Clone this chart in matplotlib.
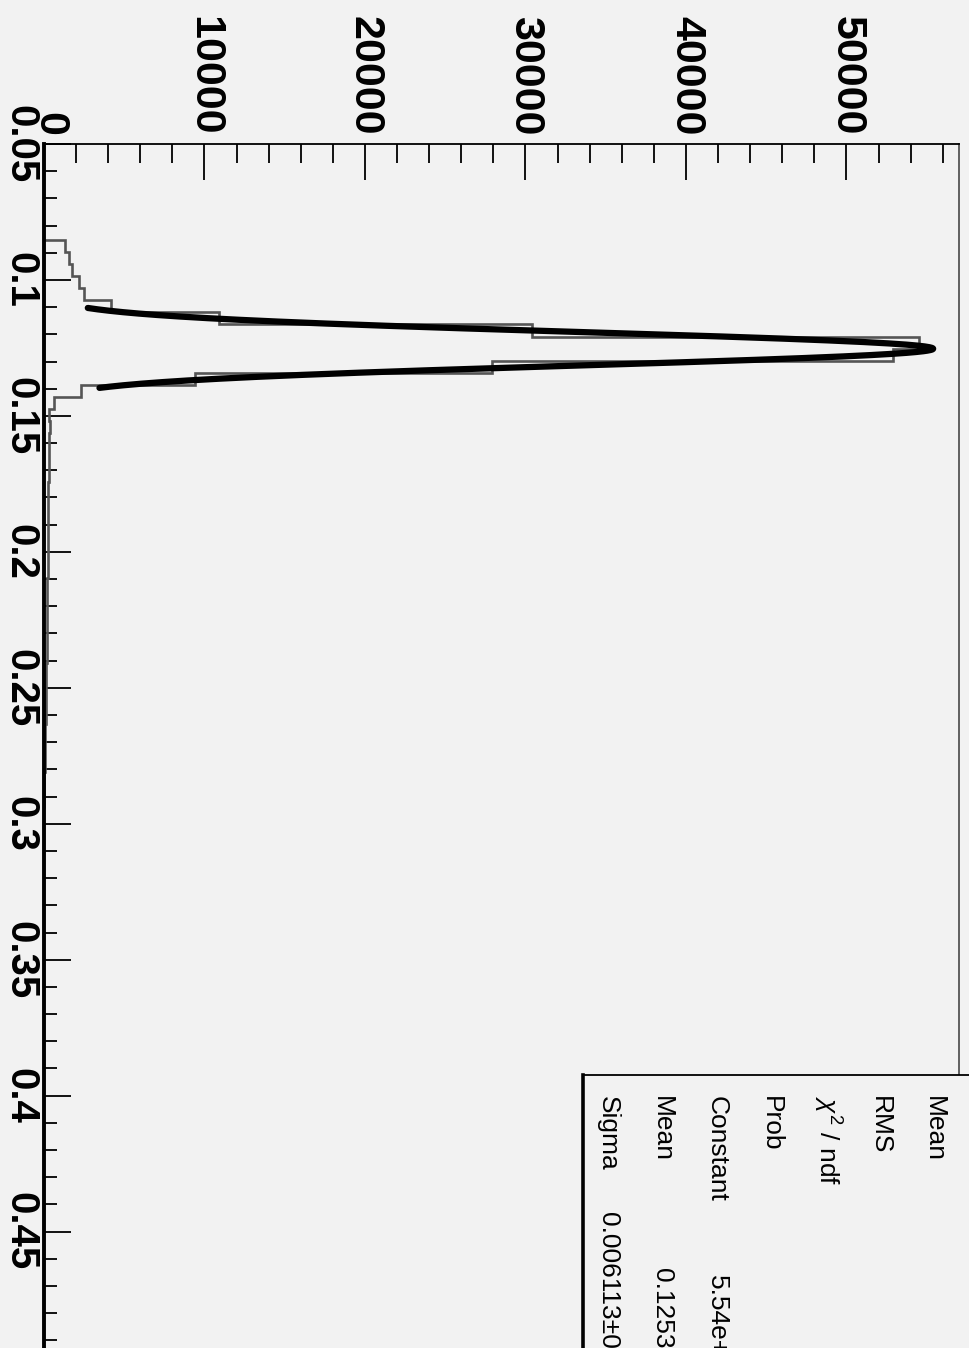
#!/usr/bin/env python3
"""Rotated ROOT-style histogram with gaussian fit and stats box."""
import numpy as np
import matplotlib
matplotlib.use("Agg")
import matplotlib.pyplot as plt
from matplotlib.patches import Rectangle
from matplotlib.transforms import ScaledTranslation

# histogram: first bin low edge, bin width, bin contents
BIN_LO = 0.0852
BIN_W = 0.00445
COUNTS = [1300, 1550, 1750, 2200, 2500, 4200, 10900, 30400, 54500, 52900,
          27900, 9400, 2300, 600, 300,
          350, 330, 320, 300, 300, 280, 280, 260, 250, 250, 240, 230, 220,
          210, 200, 200, 190, 180, 170, 160, 150, 140, 130, 120,
          100, 80, 60, 50, 40, 30, 20, 10]

# gaussian fit parameters (from the stats box) and fit range
FIT_CONST = 5.54e4
FIT_MEAN = 0.1253
FIT_SIGMA = 0.006113
FIT_RANGE = (0.1103, 0.1397)

COUNT_TICKS = [0, 10000, 20000, 30000, 40000, 50000]
VAR_TICKS = [0.05, 0.1, 0.15, 0.2, 0.25, 0.3, 0.35, 0.4, 0.45]
VAR_LABELS = ["0.05", "0.1", "0.15", "0.2", "0.25", "0.3", "0.35", "0.4", "0.45"]

STAT_LABELS = ["Mean", "RMS", r"$\chi^{2}$ / ndf", "Prob", "Constant", "Mean", "Sigma"]
STAT_VALUES = ["", "", "", "", "5.54e+04", "0.1253", "0.006113\u00b10.000006"]

BG = "#f2f2f2"
W, H = 970, 1348

plt.rcParams["font.family"] = ["Liberation Sans", "DejaVu Sans"]
plt.rcParams["mathtext.fontset"] = "custom"
plt.rcParams["mathtext.it"] = "Liberation Sans:italic"
plt.rcParams["mathtext.rm"] = "Liberation Sans"


def fx(px):
    return px / W


def fy(py):
    return 1 - py / H


fig = plt.figure(figsize=(W / 100, H / 100), dpi=100, facecolor=BG)
ax = fig.add_axes([fx(44), 0, fx(959.3) - fx(44), fy(144)])
ax.set_facecolor(BG)

# value axis runs downward, counts run to the right
ax.set_xlim(0, 57030)
ax.set_ylim(0.05 + (H - 144) / 2719, 0.05)

edges = BIN_LO + BIN_W * np.arange(len(COUNTS) + 1)
ax.stairs(COUNTS, edges, orientation="horizontal", baseline=0,
          color="#555555", lw=1.9, zorder=2)

xs = np.linspace(FIT_RANGE[0], FIT_RANGE[1], 400)
gauss = FIT_CONST * np.exp(-0.5 * ((xs - FIT_MEAN) / FIT_SIGMA) ** 2)
ax.plot(gauss, xs, color="black", lw=4.5, solid_capstyle="round", zorder=3)

# frame
ax.spines["bottom"].set_visible(False)
ax.spines["left"].set_linewidth(2.8)
ax.spines["top"].set_linewidth(1.3)
ax.spines["right"].set_linewidth(1.3)
ax.spines["right"].set_color("#555555")

ax.xaxis.set_ticks_position("top")
ax.set_xticks(COUNT_TICKS)
ax.set_xticks(np.arange(0, 57030, 2000), minor=True)
ax.set_xticklabels([str(t) for t in COUNT_TICKS], rotation=-90,
                   fontsize=31, fontweight="bold")
ax.tick_params(axis="x", which="major", direction="in", length=26, width=1.3, pad=6)
ax.tick_params(axis="x", which="minor", direction="in", length=13.5, width=1.3)

# nudge the "0" label right so it clears "0.05", as in ROOT's output
zero_lab = ax.xaxis.get_major_ticks()[0].label2
zero_lab.set_transform(zero_lab.get_transform() + ScaledTranslation(0.05, 0, fig.dpi_scale_trans))

ax.set_yticks(VAR_TICKS)
ax.set_yticks(np.arange(0.05, 0.5, 0.01), minor=True)
ax.set_yticklabels(VAR_LABELS, rotation=-90, fontsize=29, fontweight="bold", va="center")
ax.tick_params(axis="y", which="major", direction="in", length=19.5, width=1.3, pad=3)
ax.tick_params(axis="y", which="minor", direction="in", length=9.5, width=1.3)

# stats box in the lower right corner
fig.patches.append(Rectangle((fx(583), 0), 1, fy(1075), transform=fig.transFigure,
                             facecolor=BG, edgecolor="none", zorder=5))
fig.add_artist(plt.Line2D([fx(583), 1], [fy(1075), fy(1075)], transform=fig.transFigure,
                          color="black", lw=1.3, zorder=6))
fig.add_artist(plt.Line2D([fx(583), fx(583)], [0, fy(1075)], transform=fig.transFigure,
                          color="black", lw=2.6, zorder=6))

baselines = [927, 873, 818, 764, 710, 655, 601]
value_starts = [1290, 1290, 1290, 1290, 1275, 1268, 1212]
for lab, val, bx, vy in zip(STAT_LABELS, STAT_VALUES, baselines, value_starts):
    fig.text(fx(bx), fy(1096), lab, rotation=-90, rotation_mode="anchor",
             ha="left", va="baseline", fontsize=19, zorder=7)
    if val:
        fig.text(fx(bx), fy(vy), val, rotation=-90, rotation_mode="anchor",
                 ha="left", va="baseline", fontsize=19, zorder=7)

fig.savefig("out.png", dpi=100, facecolor=BG)
